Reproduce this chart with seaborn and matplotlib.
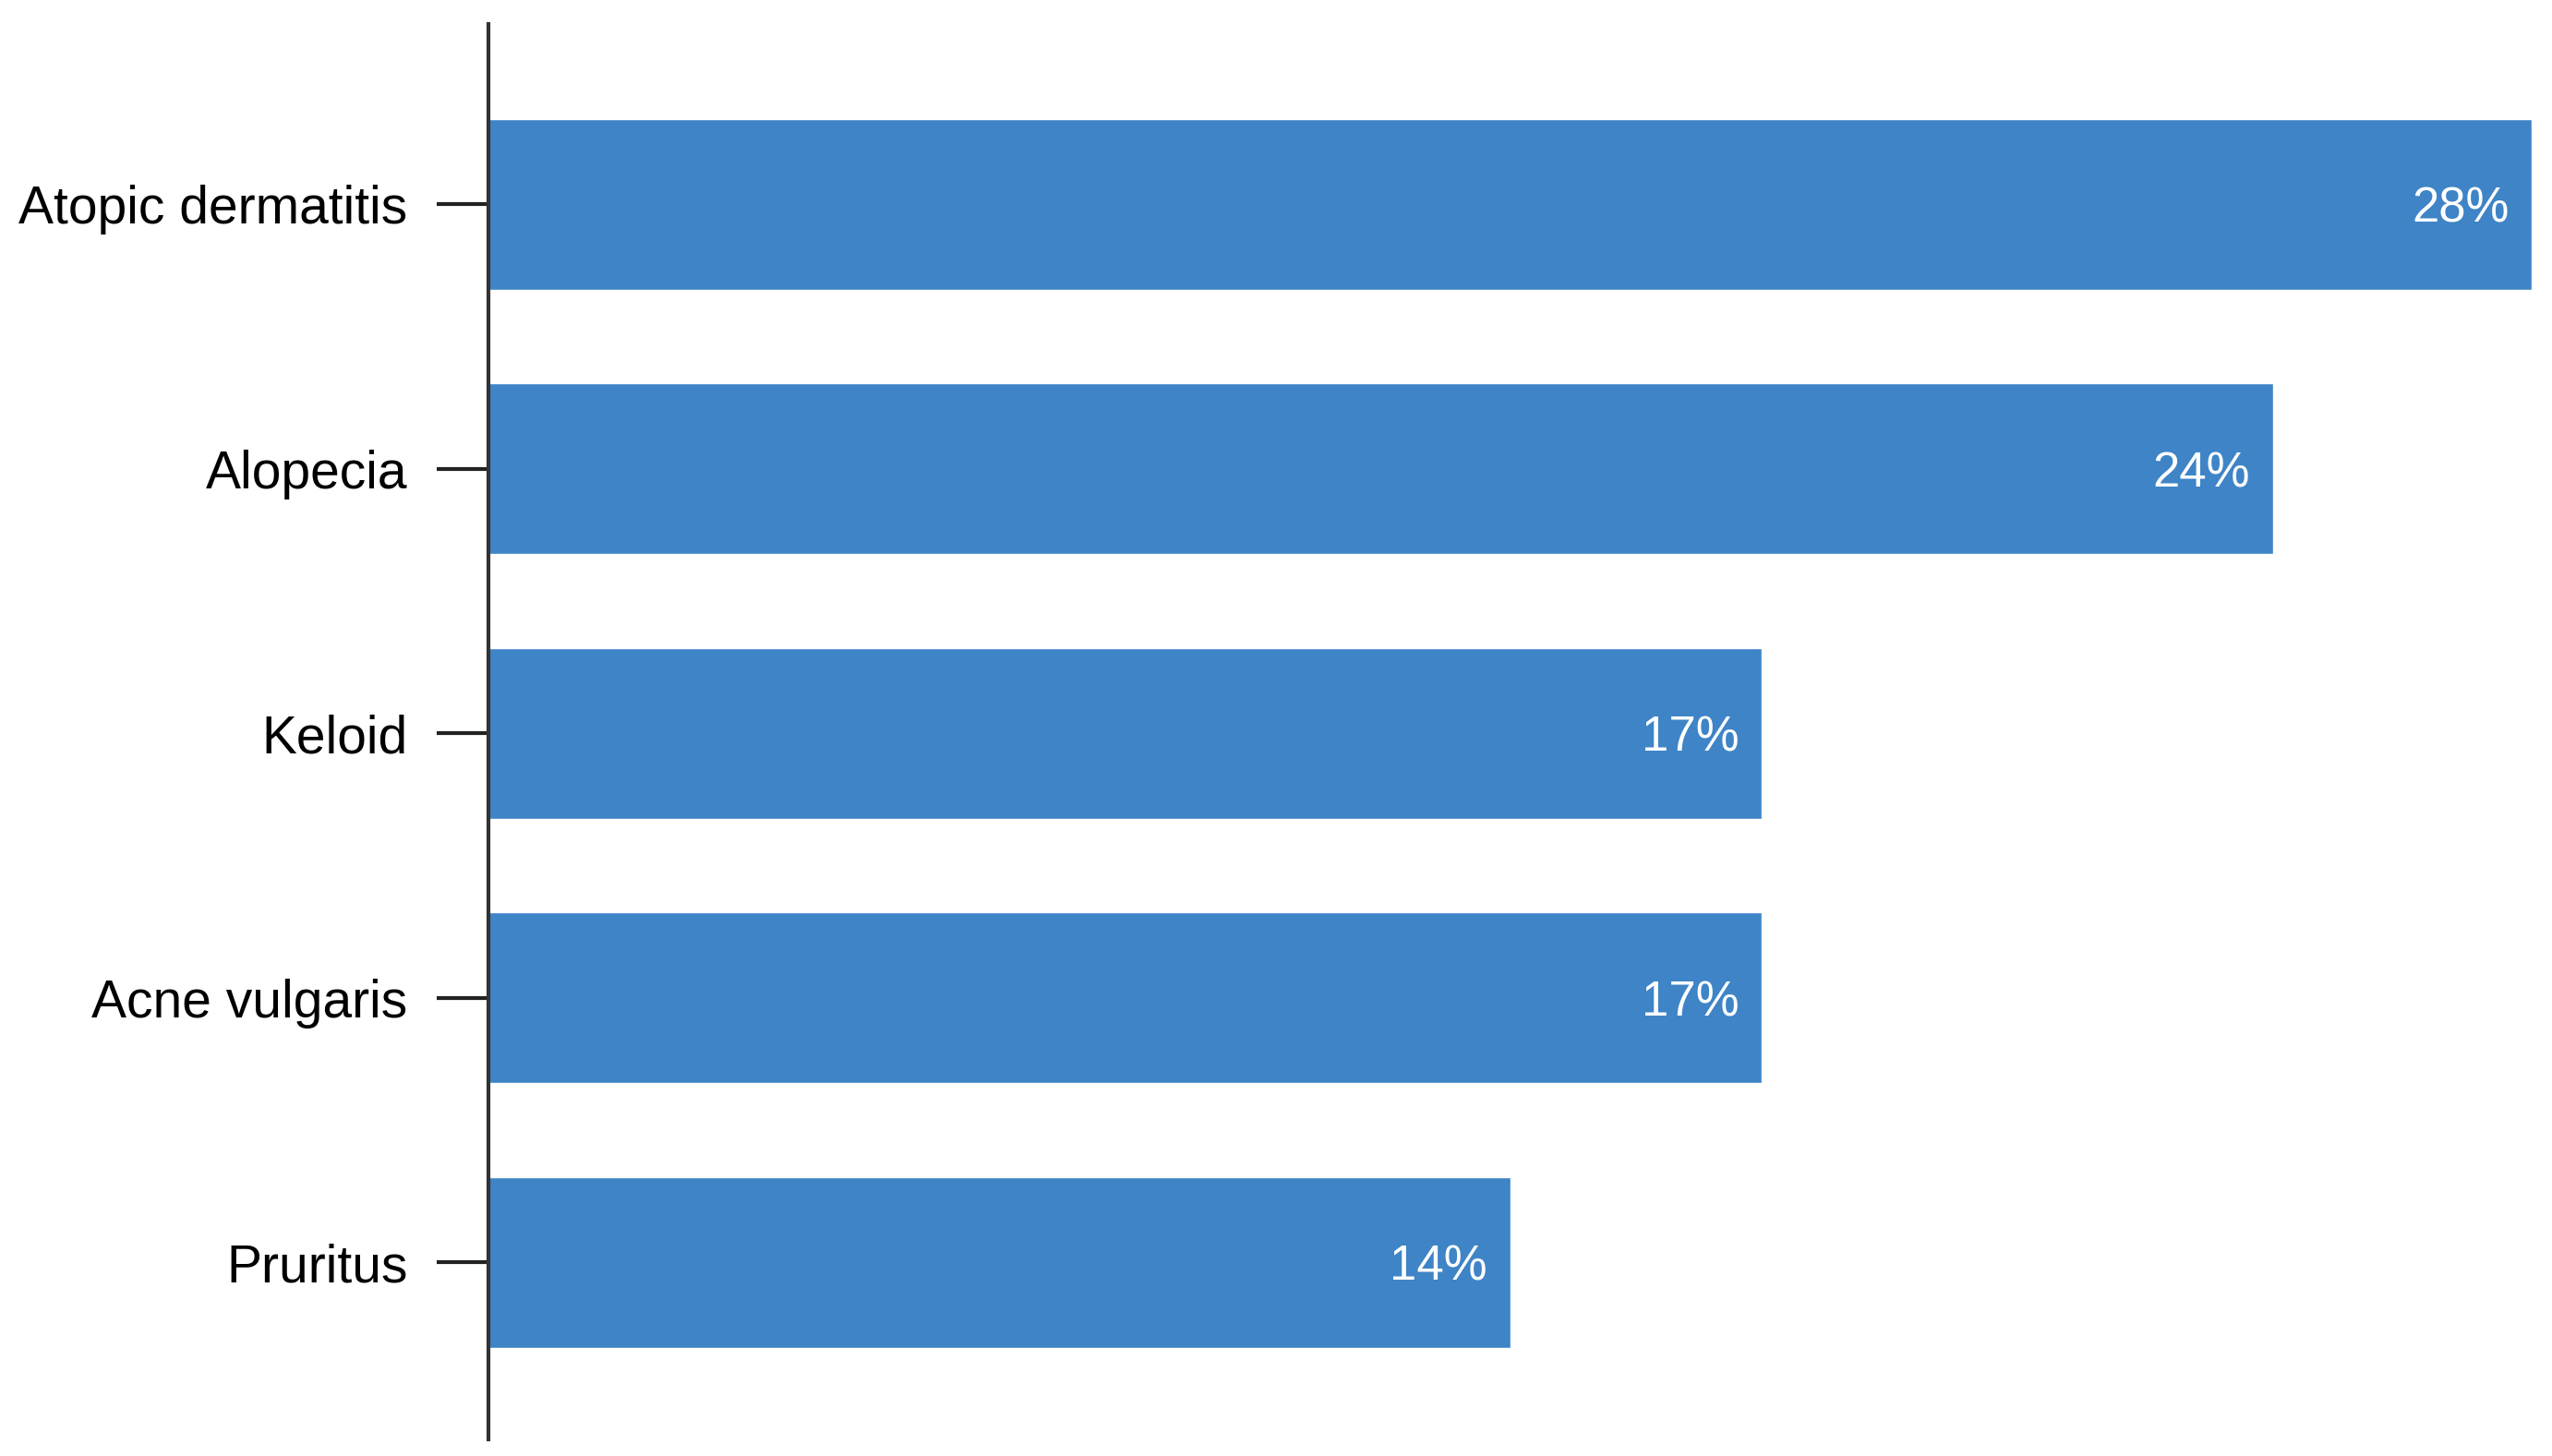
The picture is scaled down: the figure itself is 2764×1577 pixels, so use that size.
import matplotlib
matplotlib.use("Agg")
import matplotlib.pyplot as plt
import seaborn as sns
import pandas as pd

categories = ["Atopic dermatitis", "Alopecia", "Keloid", "Acne vulgaris", "Pruritus"]
values = [27.6, 24.1, 17.2, 17.2, 13.8]
value_labels = ["28%", "24%", "17%", "17%", "14%"]

sns.set_theme(style="white")
plt.rcParams['font.family'] = ['Liberation Sans', 'DejaVu Sans']

df = pd.DataFrame({"category": categories, "value": values})

fig = plt.figure(figsize=(27.64, 15.77), dpi=100)
ax = fig.add_axes([0.1913, 0.0112, 0.8087, 0.972])

sns.barplot(data=df, x="value", y="category", orient="h", color="#3E84C6",
            saturation=1, width=0.645, ax=ax)

for i, (v, lab) in enumerate(zip(values, value_labels)):
    ax.annotate(lab, xy=(v, i), xytext=(-18, -4), textcoords="offset points",
                ha="right", va="center", color="white", fontsize=38)

ax.set_xlim(0, 27.87)
ax.set_ylim(4.67, -0.68)
ax.set_xlabel("")
ax.set_ylabel("")
ax.set_xticks([])
for s in ["top", "right", "bottom"]:
    ax.spines[s].set_visible(False)
ax.spines["left"].set_color("#333333")
ax.spines["left"].set_linewidth(3)
ax.tick_params(axis="y", length=40, width=3, color="#222222", pad=23,
               labelsize=41, labelcolor="black", left=True)

fig.savefig("out.png", dpi=100)
